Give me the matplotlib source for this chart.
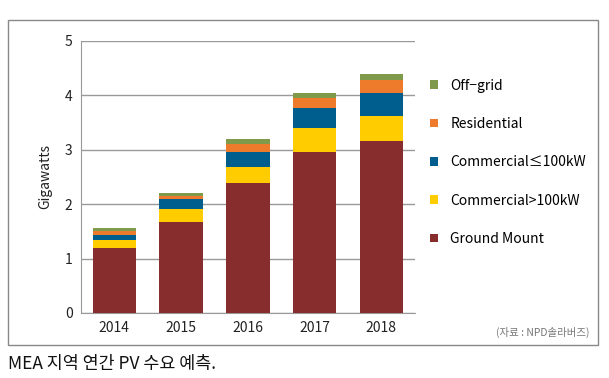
import matplotlib
matplotlib.use("Agg")
import matplotlib.pyplot as plt
from matplotlib.patches import Rectangle
import numpy as np

plt.rcParams['font.family'] = ['Noto Sans CJK KR', 'DejaVu Sans']

# Data (GW)
years = ["2014", "2015", "2016", "2017", "2018"]
ground_mount = [1.19, 1.68, 2.38, 2.95, 3.16]
commercial_gt100 = [0.15, 0.23, 0.31, 0.44, 0.46]
commercial_le100 = [0.10, 0.18, 0.26, 0.37, 0.42]
residential = [0.07, 0.06, 0.15, 0.19, 0.24]
off_grid = [0.05, 0.06, 0.09, 0.10, 0.11]

series = [
    ("Ground Mount", ground_mount, "#872D2E"),
    ("Commercial>100kW", commercial_gt100, "#FFCC00"),
    ("Commercial\u2264100kW", commercial_le100, "#005E8E"),
    ("Residential", residential, "#EE7B2B"),
    ("Off\u2212grid", off_grid, "#7E9A4A"),
]

fig = plt.figure(figsize=(6.09, 3.78), dpi=100)
ax = fig.add_axes([0.133, 0.172, 0.548, 0.72])

x = np.arange(len(years))
bottom = np.zeros(len(years))
for name, vals, color in series:
    ax.bar(x, vals, width=0.65, bottom=bottom, color=color, label=name, zorder=3)
    bottom += np.array(vals)

ax.set_xlim(-0.5, 4.5)
ax.set_ylim(0, 5)
ax.set_yticks(range(6))
ax.set_xticks(x)
ax.set_xticklabels(years)
ax.tick_params(length=0, labelsize=10, colors="#222222", pad=6)
ax.yaxis.grid(True, color="#999999", linewidth=1, zorder=0)
for s in ["top", "right"]:
    ax.spines[s].set_visible(False)
for s in ["left", "bottom"]:
    ax.spines[s].set_color("#999999")
ax.set_ylabel("Gigawatts", fontsize=10, color="#222222", labelpad=9)

# legend, top entry first
handles, labels = ax.get_legend_handles_labels()
leg = fig.legend(handles[::-1], labels[::-1], loc="upper left",
                 bbox_to_anchor=(0.685, 0.825), frameon=False, fontsize=10,
                 handlelength=0.6, handleheight=0.6, handletextpad=0.9,
                 labelspacing=1.75)

# outer frame
fig.patches.append(Rectangle((8 / 609, 1 - 345 / 378), 590 / 609, 325 / 378,
                             transform=fig.transFigure, fill=False,
                             edgecolor="#888888", linewidth=1))

fig.text(590 / 609, 1 - 332 / 378, "(자료 : NPD솔라버즈)", ha="right", va="center",
         fontsize=7.5, color="#777777")
fig.text(8 / 609, 1 - 364 / 378, "MEA 지역 연간 PV 수요 예측.", ha="left", va="center",
         fontsize=12.5, color="#111111")

fig.savefig("out.png", dpi=100)
